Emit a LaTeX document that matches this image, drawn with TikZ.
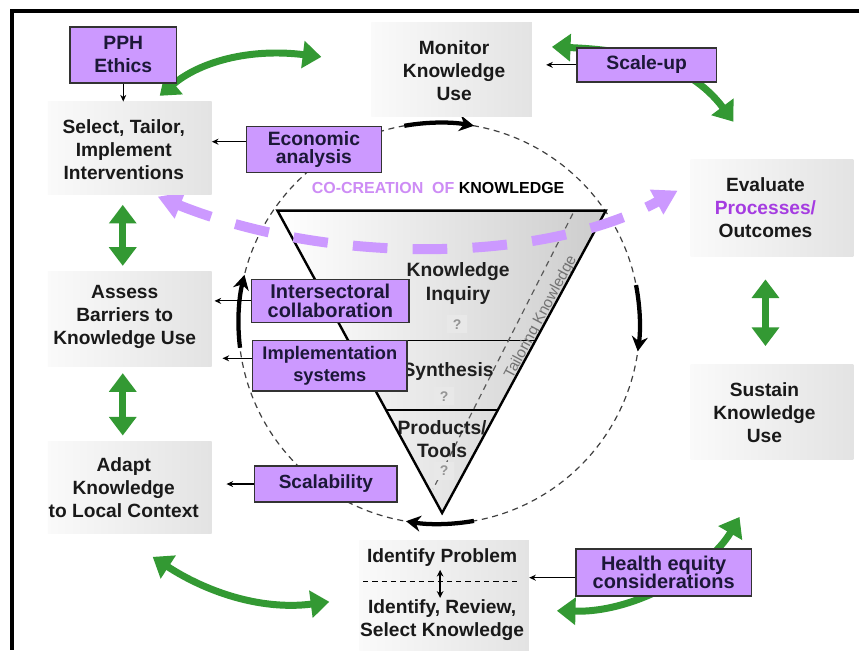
\documentclass[tikz,border=0pt]{standalone}
\usepackage{fontspec}
\setmainfont{Liberation Sans}
\usetikzlibrary{arrows.meta,calc}

\definecolor{boxpurple}{RGB}{204,153,255}
\definecolor{arcpurple}{RGB}{204,153,255}
\definecolor{leafgreen}{RGB}{51,153,51}
\definecolor{inkblue}{RGB}{28,24,56}
\definecolor{procviolet}{RGB}{165,60,225}
\definecolor{copurple}{RGB}{205,140,245}

\newcommand\graytext{\fontsize{14.4}{17.3}\selectfont\bfseries}
\newcommand\trifont{\fontsize{14.5}{17.5}\selectfont\bfseries}

\begin{document}
\begin{tikzpicture}[x=0.75pt,y=-0.75pt,
  graybox/.style={inner sep=0, left color=black!2, right color=black!11, draw=none},
  graytxt/.style={align=center, font=\graytext, text=black!90, inner sep=0},
  ppbox/.style={draw=black!80, line width=1.1pt, fill=boxpurple, align=center, inner sep=0, text=inkblue},
  parr/.style={draw=black, line width=0.9pt, -{Stealth[length=5pt,width=4.5pt]}},
  garrow/.style={draw=leafgreen, line width=5.25pt, {Triangle[length=14pt,width=20pt]}-{Triangle[length=14pt,width=20pt]}},
  barc/.style={draw=black, line width=3.2pt, -{Stealth[length=11pt,width=12pt]}},
  ringdash/.style={draw=black!75, line width=0.9pt, dash pattern=on 4.5pt off 3.5pt},
  qbox/.style={fill=black!9, text=black!42, inner sep=0, minimum width=15pt, minimum height=13.5pt, font=\fontsize{10.5}{10.5}\selectfont\bfseries},
  trilabel/.style={font=\trifont, align=center, text=black!88, inner sep=0},
]

% page and frame
\path[fill=white] (0,0) rectangle (861,651);
\draw[line width=2.6pt] (861,11) -- (12,11) -- (12,651);

% dashed cycle ring
\coordinate (C) at (440,324);
\draw[ringdash] (C) circle (201);

% inverted knowledge triangle
\coordinate (tl) at (278,211);
\coordinate (tr) at (607,211);
\coordinate (tb) at (443,514);
\path[left color=white, right color=black!20] (tl) -- (tr) -- (tb) -- cycle;
\draw[line width=1pt] ($(tl)!0.429!(tb)$) -- ($(tr)!0.429!(tb)$);
\draw[line width=1pt] ($(tl)!0.660!(tb)$) -- ($(tr)!0.660!(tb)$);
\coordinate (tka) at (574,214);
\coordinate (tkb) at (434,490);
\draw[ringdash, draw=black!65] (tka) -- (tkb);
\node[rotate=62, text=black!55, inner sep=0, font=\fontsize{11.5}{12}\selectfont] (tailor) at (542,318) {Tailoring Knowledge};
\node[trilabel] (kin) at (459,284) {Knowledge\\Inquiry};
\node[trilabel] (syn) at (449,372) {Synthesis};
\node[trilabel] (pro) at (443,440) {Products/\\Tools};
\node[qbox] (q1) at (458,325) {?};
\node[qbox] (q2) at (445,397) {?};
\node[qbox] (q3) at (445,472) {?};
\draw[line width=1.8pt, line join=miter] (tl) -- (tr) -- (tb) -- cycle;

% clockwise arrows on the ring
\draw[barc] (C) ++(-100:201) arc[start angle=-100, end angle=-80, radius=201];
\draw[barc] (C) ++(-11:201) arc[start angle=-11, end angle=8, radius=201];
\draw[barc] (C) ++(80:201) arc[start angle=80, end angle=99.5, radius=201];
\draw[barc] (C) ++(173:201) arc[start angle=173, end angle=194, radius=201];

% co-creation arc
\coordinate (pa) at (158,197);
\coordinate (pb) at (679,191);
\draw[draw=arcpurple, line width=7.5pt, dash pattern=on 26pt off 19pt,
      {Triangle[length=18pt,width=20pt]}-{Triangle[length=18pt,width=20pt]}]
  (pa) .. controls (330,266) and (545,264) .. (pb);
\node[inner sep=0, font=\fontsize{12}{12}\selectfont\bfseries] (cocr) at (439,188)
  {\textcolor{copurple}{CO-CREATION\ \ OF} KNOWLEDGE};

% green cycle arrows (curved)
\coordinate (g1a) at (160,96);  \coordinate (g1b) at (322,57);
\draw[garrow] (g1a) .. controls (200,62) and (250,48) .. (g1b);
\coordinate (g2a) at (553,47);  \coordinate (g2b) at (735,122);
\draw[garrow] (g2a) .. controls (630,50) and (690,62) .. (g2b);
\coordinate (g3a) at (153,558); \coordinate (g3b) at (330,603);
\draw[garrow] (g3a) .. controls (205,592) and (260,612) .. (g3b);
\coordinate (g4a) at (558,612); \coordinate (g4b) at (741,518);
\draw[garrow] (g4a) .. controls (640,614) and (712,568) .. (g4b);

% process steps
\node[graybox, minimum width=120.75pt, minimum height=70.5pt] (mon) at (452.5,70) {};
\node[graytxt] (mont) at (455,71) {Monitor\\Knowledge\\Use};
\node[graybox, minimum width=123pt, minimum height=69.75pt] (sel) at (130,148.5) {};
\node[graytxt] (selt) at (124,150) {Select, Tailor,\\Implement\\Interventions};
\node[graybox, minimum width=122.25pt, minimum height=72.75pt] (eva) at (773.5,208.5) {};
\node[graytxt] (evat) at (767,208) {Evaluate\\\textcolor{procviolet}{Processes/}\\Outcomes};
\node[graybox, minimum width=123pt, minimum height=71.25pt] (ass) at (130,319.5) {};
\node[graytxt] (asst) at (125,318) {Assess\\Barriers to\\Knowledge Use};
\node[graybox, minimum width=122.25pt, minimum height=71.25pt] (sus) at (773.5,412.5) {};
\node[graytxt] (sust) at (766,413) {Sustain\\Knowledge\\Use};
\node[graybox, minimum width=123pt, minimum height=69.75pt] (ada) at (130,488.5) {};
\node[graytxt] (adat) at (124,489) {Adapt\\Knowledge\\to Local Context};
\node[graybox, minimum width=127.5pt, minimum height=82.5pt] (idp) at (445,597) {};
\node[graytxt] (idpt) at (443,559) {Identify Problem};
\node[graytxt] (idkt) at (443,621) {Identify, Review,\\Select Knowledge};
\path (idp.center) ++(0,-14) coordinate (idmid);
\draw[line width=0.9pt, dash pattern=on 4pt off 3pt, shorten <=3pt, shorten >=6pt] (idmid -| idp.west) -- (idmid -| idp.east);
\coordinate (ida) at (441,571);
\coordinate (idb) at (441,599);
\draw[line width=1.2pt, {Stealth[length=5pt,width=5pt]}-{Stealth[length=5pt,width=5pt]}] (ida) -- (idb);

% green arrows between neighbouring steps
\coordinate (lx) at (123,0);
\coordinate (rx) at (767,0);
\draw[garrow, shorten <=7.5pt, shorten >=4pt] (sel.south -| lx) -- (ass.north -| lx);
\draw[garrow, shorten <=5pt, shorten >=4pt] (ass.south -| lx) -- (ada.north -| lx);
\draw[garrow, shorten <=17pt, shorten >=13.5pt] (eva.south -| rx) -- (sus.north -| rx);

% considerations feeding the steps
\node[ppbox, minimum width=80.25pt, minimum height=42pt, font=\fontsize{14.5}{17.3}\selectfont\bfseries] (pph) at (123.5,55) {PPH\\Ethics};
\node[ppbox, minimum width=101.25pt, minimum height=34.5pt, font=\fontsize{14.5}{13.5}\selectfont\bfseries] (eco) at (314.5,150) {Economic\\analysis};
\node[ppbox, minimum width=105pt, minimum height=25.5pt, font=\fontsize{14.5}{14}\selectfont\bfseries] (scl) at (648,65) {Scale-up};
\node[ppbox, minimum width=118.5pt, minimum height=32.25pt, font=\fontsize{15}{14.25}\selectfont\bfseries] (int) at (331,301.5) {Intersectoral\\collaboration};
\node[ppbox, minimum width=116.25pt, minimum height=38.25pt, font=\fontsize{13.7}{16.5}\selectfont\bfseries] (imp) at (330.5,366.5) {Implementation\\systems};
\node[ppbox, minimum width=107.25pt, minimum height=27pt, font=\fontsize{14.3}{14}\selectfont\bfseries] (sca) at (326.5,485) {Scalability};
\node[ppbox, minimum width=132pt, minimum height=35.25pt, font=\fontsize{15}{14.25}\selectfont\bfseries] (hea) at (665,573.5) {Health equity\\considerations};

\draw[parr] (pph.south) -- (pph.south |- sel.north);
\path ([yshift=6pt]eco.west) coordinate (ecoL);
\draw[parr] (ecoL) -- (ecoL -| sel.east);
\draw[parr, shorten >=10.5pt] (scl.west) -- (scl.west -| mon.east);
\draw[parr, shorten >=2pt] (int.west) -- (int.west -| ass.east);
\path ([yshift=5.6pt]imp.west) coordinate (impL);
\draw[parr, shorten >=8pt] (impL) -- (impL -| ass.east);
\draw[parr, shorten >=11pt] (sca.west) -- (sca.west -| ada.east);
\path ([yshift=-4pt]hea.west) coordinate (heaL);
\draw[parr] (heaL) -- (heaL -| idp.east);

\end{tikzpicture}
\end{document}
